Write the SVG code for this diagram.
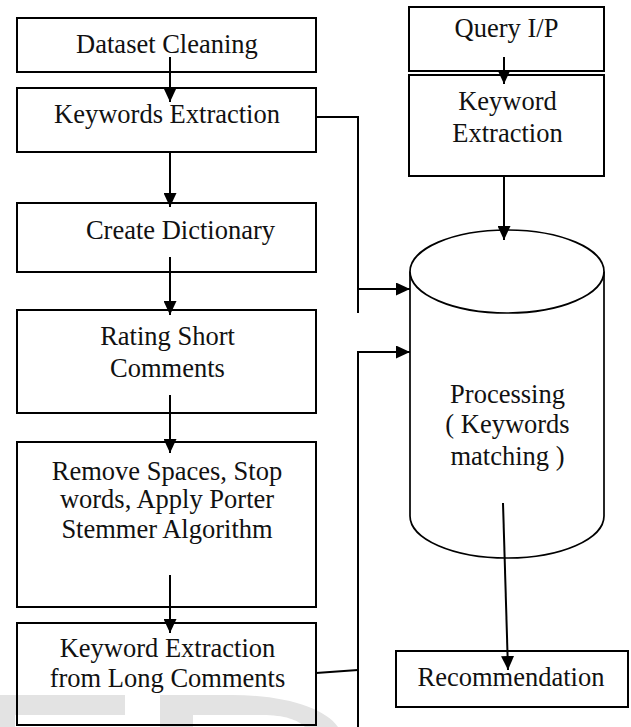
<svg xmlns="http://www.w3.org/2000/svg" width="631" height="727" viewBox="0 0 631 727">
<style>
.box{fill:none;stroke:#000;stroke-width:2}
.t{font-family:"Liberation Serif","Times New Roman",serif;font-size:26.5px;fill:#111;text-anchor:middle}
.c{fill:none;stroke:#000;stroke-width:2}
.wm{fill:#e3e3e3}
</style>
<defs>
<marker id="ah" markerUnits="userSpaceOnUse" markerWidth="15" markerHeight="13" refX="14" refY="6.5" orient="auto">
<path d="M0,0 L14,6.5 L0,13 z" fill="#000"/>
</marker>
</defs>
<rect width="631" height="727" fill="#fff"/>
<g id="watermark">
<rect class="wm" x="0" y="695" width="125" height="20"/>
<rect class="wm" x="0" y="715" width="15" height="12"/>
<path class="wm" d="M160,695 H232 C285,695 325,708 338,727 H305 C298,720 285,715 262,715 H193 V727 H160 Z"/>
</g>
<g id="n-dataset-cleaning">
<rect class="box" x="17" y="18" width="299" height="54"/>
<text class="t" x="167" y="53">Dataset Cleaning</text>
</g>
<g id="n-keywords-extraction">
<rect class="box" x="17" y="88" width="299" height="64"/>
<text class="t" x="167" y="123">Keywords Extraction</text>
</g>
<g id="n-create-dictionary">
<rect class="box" x="17" y="203" width="299" height="69"/>
<text class="t" x="180.5" y="239">Create Dictionary</text>
</g>
<g id="n-rating-short">
<rect class="box" x="17" y="310" width="299" height="103"/>
<text class="t" x="167.5" y="345">Rating Short</text>
<text class="t" x="167.5" y="377">Comments</text>
</g>
<g id="n-remove-spaces">
<rect class="box" x="17" y="442" width="299" height="165"/>
<text class="t" x="167" y="480">Remove Spaces, Stop</text>
<text class="t" x="167" y="508">words, Apply Porter</text>
<text class="t" x="167" y="538">Stemmer Algorithm</text>
</g>
<g id="n-keyword-long">
<rect class="box" x="17" y="623" width="299" height="102"/>
<text class="t" x="167.5" y="657">Keyword Extraction</text>
<text class="t" x="167.5" y="687">from Long Comments</text>
</g>
<g id="n-query">
<rect class="box" x="409" y="7" width="195" height="64"/>
<text class="t" x="506.5" y="37">Query I/P</text>
</g>
<g id="n-keyword-extraction">
<rect class="box" x="409" y="75" width="195" height="101"/>
<text class="t" x="507.5" y="110">Keyword</text>
<text class="t" x="507.5" y="142">Extraction</text>
</g>
<g id="n-processing">
<path d="M410,271.5 V516 A97,42 0 0 0 604,516 V271.5" fill="#fff" stroke="#000" stroke-width="1.7"/>
<ellipse cx="507" cy="271.5" rx="97" ry="41.5" fill="#fff" stroke="#000" stroke-width="1.7"/>
<text class="t" x="507.5" y="403">Processing</text>
<text class="t" x="507.5" y="433">( Keywords</text>
<text class="t" x="507.5" y="465">matching )</text>
</g>
<g id="n-recommendation">
<rect class="box" x="396" y="651" width="232" height="56"/>
<text class="t" x="511" y="686">Recommendation</text>
</g>
<g id="connectors">
<line class="c" x1="170" y1="57" x2="170" y2="102" marker-end="url(#ah)"/>
<line class="c" x1="170" y1="152" x2="170" y2="207" marker-end="url(#ah)"/>
<line class="c" x1="170" y1="257" x2="170" y2="315" marker-end="url(#ah)"/>
<line class="c" x1="170" y1="395" x2="170" y2="453" marker-end="url(#ah)"/>
<line class="c" x1="170" y1="575" x2="170" y2="633" marker-end="url(#ah)"/>
<line class="c" x1="504" y1="57" x2="504" y2="84" marker-end="url(#ah)"/>
<line class="c" x1="504" y1="176" x2="504" y2="240" marker-end="url(#ah)"/>
<polyline class="c" points="316,117 358,117 358,313"/>
<line class="c" x1="358" y1="289" x2="410" y2="289" marker-end="url(#ah)"/>
<line class="c" x1="316" y1="673" x2="358" y2="670"/>
<line class="c" x1="358" y1="352" x2="358" y2="727"/>
<line class="c" x1="357" y1="352" x2="410" y2="352" marker-end="url(#ah)"/>
<line class="c" x1="503" y1="503" x2="508" y2="670" marker-end="url(#ah)"/>
</g>
</svg>
